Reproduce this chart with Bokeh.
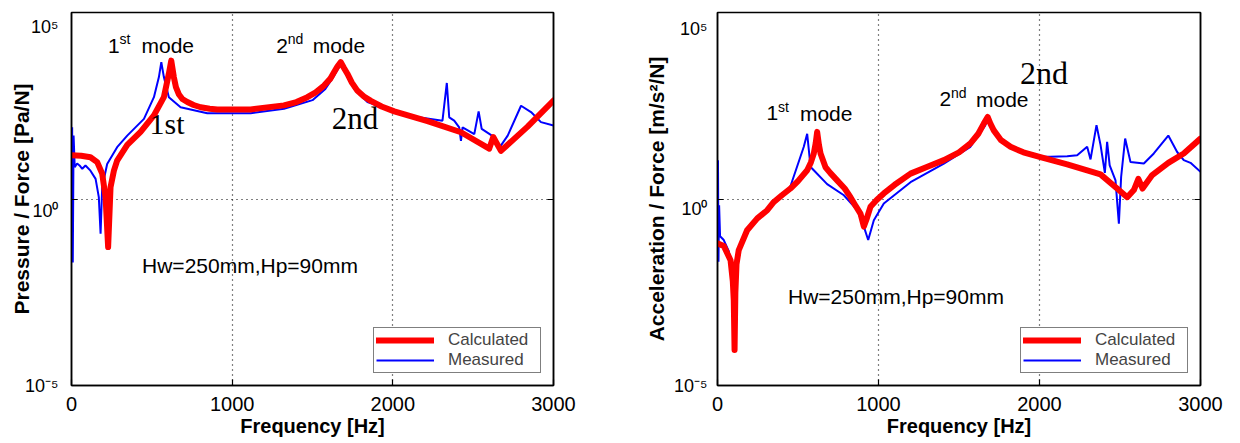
import math
from bokeh.plotting import figure
from bokeh.models import (Range1d, FixedTicker, LogAxis, Label,
                          Legend, LegendItem, CustomJSTickFormatter)
from bokeh.layouts import row
from bokeh.embed import file_html
from bokeh.resources import INLINE

# ---------------- data ----------------
FREQ_TICKS = [0, 1000, 2000, 3000]
MAG_TICKS = [1e-5, 1e0, 1e5]
MAG_TICK_LABELS = ["10\u207b\u2075", "10\u2070", "10\u2075"]

# Left: Pressure / Force [Pa/N]
press_calc_f = [0, 60, 118, 160, 191, 212, 228, 243, 264, 284, 347, 430, 513, 575,
                606, 621, 637, 650, 669, 690, 721, 760, 804, 860, 908, 1115, 1322,
                1400, 1468, 1520, 1572, 1610, 1634, 1655, 1676, 1695, 1717, 1745,
                1780, 1820, 1863, 1930, 2009, 2216, 2424, 2600, 2625, 2673, 2839, 3000]
press_calc_v = [14.8, 14.5, 13.2, 9.77, 4.79, 1.12, 0.0513, 2.09, 5.75, 10.7, 28.2,
                63.1, 174, 537, 2290, 5130, 1860, 1000, 631, 479, 398, 331, 288, 263,
                251, 251, 324, 398, 537, 724, 1100, 1660, 2510, 3550, 4680, 3310,
                2290, 1320, 794, 562, 427, 302, 224, 123, 61.7, 22.4, 45.7, 19.5,
                87.1, 437]
press_meas_f = [0, 4, 8, 13, 20, 35, 50, 67, 87, 118, 150, 170, 181, 191, 222, 284,
                347, 451, 513, 544, 559, 575, 606, 679, 845, 1115, 1323, 1500, 1580,
                1634, 1660, 1676, 1695, 1717, 1760, 1842, 2009, 2150, 2309, 2336, 2351,
                2382, 2413, 2424, 2434, 2507, 2534, 2553, 2631, 2669, 2715, 2798, 2860,
                2922, 3000]
press_meas_v = [0.631, 83.2, 0.02, 50.1, 7.08, 8.91, 7.94, 6.46, 7.94, 5.75, 3.47,
                1.12, 0.117, 2.09, 8.71, 24.5, 50.1, 141, 537, 1860, 4680, 1860, 537,
                288, 200, 200, 263, 447, 891, 2000, 3160, 4170, 2820, 2000, 891, 398,
                224, 158, 126, 1290, 155, 126, 83.2, 36.3, 83.2, 55.0, 224, 75.9, 45.7,
                25.7, 50.1, 316, 214, 115, 93.3]

# Right: Acceleration / Force [m/s^2/N]
acc_calc_f = [0, 39, 81, 95, 101, 106, 111, 118, 132, 184, 247, 309, 350, 400, 453,
              500, 557, 580, 598, 610, 619, 630, 640, 671, 700, 743, 790, 826, 860,
              888, 909, 925, 950, 990, 1033, 1100, 1199, 1300, 1406, 1500, 1571, 1620,
              1654, 1678, 1695, 1716, 1760, 1820, 1900, 2006, 2172, 2379, 2482, 2545,
              2586, 2614, 2640, 2700, 2800, 2896, 3000]
acc_calc_v = [0.0646, 0.055, 0.0229, 0.00631, 0.00195, 8.91e-5, 0.00316, 0.0178,
              0.0427, 0.145, 0.302, 0.501, 0.832, 1.26, 1.91, 3.02, 5.89, 9.55, 16.6,
              31.6, 63.1, 28.2, 16.6, 7.08, 5.01, 3.16, 1.91, 1.12, 0.631, 0.407,
              0.182, 0.282, 0.617, 0.955, 1.41, 2.40, 4.79, 7.24, 11.0, 17.8, 30.9,
              56.2, 105, 158, 105, 69.2, 38.0, 25.1, 17.8, 13.2, 8.51, 4.57, 1.91,
              1.12, 1.74, 3.47, 1.91, 4.37, 9.33, 16.6, 41.7]
acc_meas_f = [0, 3, 6, 10, 16, 39, 70, 90, 100, 110, 125, 184, 309, 450, 536, 557,
              578, 598, 681, 785, 868, 909, 936, 971, 1033, 1199, 1406, 1571, 1660,
              1681, 1716, 1820, 2006, 2068, 2172, 2234, 2296, 2317, 2354, 2379, 2406,
              2420, 2436, 2472, 2493, 2507, 2532, 2565, 2648, 2710, 2800, 2855, 2896,
              2938, 3000]
acc_meas_v = [0.0631, 11.0, 0.0209, 0.676, 0.1, 0.0794, 0.0398, 0.0126, 0.00316,
              0.00794, 0.0398, 0.166, 0.562, 2.0, 25.1, 56.2, 7.24, 5.89, 2.51, 1.26,
              0.501, 0.182, 0.0794, 0.269, 0.759, 2.82, 8.91, 25.1, 89.1, 141, 63.1,
              24.0, 13.8, 13.5, 14.1, 14.8, 25.1, 11.5, 95.5, 28.2, 5.01, 33.9, 7.94,
              3.16, 0.219, 3.89, 41.7, 9.77, 8.91, 16.6, 50.1, 18.2, 11.0, 9.33, 5.37]

SANS = "Liberation Sans"
SERIF = "Liberation Serif"


def txt(p, x, y, text, size, dx=0, dy=0, font=SANS, style="normal",
        align="left", baseline="middle"):
    p.add_layout(Label(x=x, y=y, x_offset=dx, y_offset=dy, text=text,
                       text_font=font, text_font_size=f"{size}px",
                       text_font_style=style, text_align=align,
                       text_baseline=baseline, text_color="black"))


def blank():
    return CustomJSTickFormatter(code="return ''")


def tick_style(ax, tick_in=6):
    ax.major_tick_in = tick_in
    ax.major_tick_out = 0
    ax.minor_tick_in = 0
    ax.minor_tick_out = 0
    ax.axis_line_color = "black"
    ax.axis_line_width = 1.5
    ax.major_tick_line_color = "black"
    ax.major_tick_line_width = 1.2


def panel(width, bl, br, calc_f, calc_v, meas_f, meas_v, cfg):
    p = figure(width=width, height=443, x_range=Range1d(0, 3000),
               y_range=Range1d(1e-5, 1e5), y_axis_type="log",
               output_backend="svg", toolbar_location=None,
               min_border_left=bl, min_border_right=br,
               min_border_top=12, min_border_bottom=58)
    p.background_fill_color = "white"
    p.border_fill_color = "white"
    p.outline_line_color = "black"
    p.outline_line_width = 1.5

    xa = p.xaxis[0]
    xa.ticker = FixedTicker(ticks=FREQ_TICKS)
    xa.major_label_text_font = SANS
    xa.major_label_text_font_size = "20px"
    xa.major_label_text_color = "black"
    xa.major_label_standoff = 11
    xa.axis_label = "Frequency [Hz]"
    xa.axis_label_text_font = SANS
    xa.axis_label_text_font_size = "20px"
    xa.axis_label_text_font_style = "bold"
    xa.axis_label_text_color = "black"
    xa.axis_label_standoff = 1
    tick_style(xa)

    # inner left axis: tick marks only
    ya = p.yaxis[0]
    ya.ticker = FixedTicker(ticks=MAG_TICKS)
    ya.formatter = blank()
    ya.major_label_standoff = 0
    ya.major_label_text_font_size = "1px"
    tick_style(ya)

    # outer left axis: the 10^n labels (placed like MATLAB, slightly below ticks)
    la = LogAxis(ticker=FixedTicker(ticks=cfg["label_ticks"]),
                 formatter=CustomJSTickFormatter(args=dict(labels=MAG_TICK_LABELS),
                                                 code="return labels[index]"),
                 major_tick_in=0, major_tick_out=0, minor_tick_in=0,
                 minor_tick_out=0, axis_line_color=None, major_tick_line_color=None,
                 major_label_standoff=cfg["ylab_standoff"],
                 major_label_text_font=SANS, major_label_text_font_size="18px",
                 major_label_text_color="black",
                 axis_label=cfg["ylabel"], axis_label_text_font=SANS,
                 axis_label_text_font_size="21px", axis_label_text_font_style="bold",
                 axis_label_text_color="black",
                 axis_label_standoff=cfg["ytitle_standoff"])
    p.add_layout(la, "left")

    ra = LogAxis(ticker=FixedTicker(ticks=MAG_TICKS), formatter=blank(),
                 major_label_standoff=0, major_label_text_font_size="1px")
    tick_style(ra)
    p.add_layout(ra, "right")

    for g in (p.xgrid[0], p.ygrid[0]):
        g.grid_line_color = "black"
        g.grid_line_dash = "1 4"
        g.grid_line_width = 1.2

    r_meas = p.line(meas_f, meas_v, line_color="#0000ff", line_width=2)
    r_calc = p.line(calc_f, calc_v, line_color="#ff0000", line_width=6,
                    line_join="round", line_cap="round")

    leg = Legend(items=[LegendItem(label="Calculated", renderers=[r_calc]),
                        LegendItem(label="Measured", renderers=[r_meas])],
                 location="bottom_right", margin=12, padding=2, spacing=0,
                 glyph_width=58, glyph_height=18, label_height=18,
                 label_width=90, label_standoff=14,
                 label_text_font=SANS, label_text_font_size="17px",
                 border_line_color="black", border_line_width=1.2,
                 background_fill_color="white", background_fill_alpha=1.0)
    p.add_layout(leg)

    # mode annotations (anchored at the text's vertical middle)
    for (num, suf, mdx, x, y) in cfg["modes"]:
        txt(p, x, y, num, 21)
        txt(p, x, y, suf, 14, dx=11.5, dy=6.5)
        txt(p, x, y, "mode", 21, dx=mdx)
    for (s, x, y, size) in cfg["serif"]:
        txt(p, x, y, s, size, font=SERIF)
    txt(p, cfg["hw"][0], cfg["hw"][1], "Hw=250mm,Hp=90mm", 21)
    return p


left_cfg = dict(
    label_ticks=[1e-5, 10 ** -0.32, 10 ** 4.62],
    ylab_standoff=13, ytitle_standoff=-11,
    ylabel="Pressure / Force [Pa/N]",
    modes=[("1", "st", 33.5, 227, 13000), ("2", "nd", 36.5, 1274, 13000)],
    serif=[("1st", 486, 103, 30), ("2nd", 1620, 144, 31)],
    hw=(439, 0.017),
)
right_cfg = dict(
    label_ticks=[1e-5, 10 ** -0.27, 10 ** 4.55],
    ylab_standoff=10, ytitle_standoff=3,
    ylabel="Acceleration / Force [m/s\u00b2/N]",
    modes=[("1", "st", 33.5, 304, 198), ("2", "nd", 36.5, 1379, 469)],
    serif=[("2nd", 1879, 2330, 32)],
    hw=(438, 0.0025),
)

p1 = panel(640, 71, 87, press_calc_f, press_calc_v, press_meas_f, press_meas_v, left_cfg)
p2 = panel(598, 77, 38, acc_calc_f, acc_calc_v, acc_meas_f, acc_meas_v, right_cfg)

layout = row(p1, p2)
open("out.html", "w").write(file_html(layout, INLINE))
